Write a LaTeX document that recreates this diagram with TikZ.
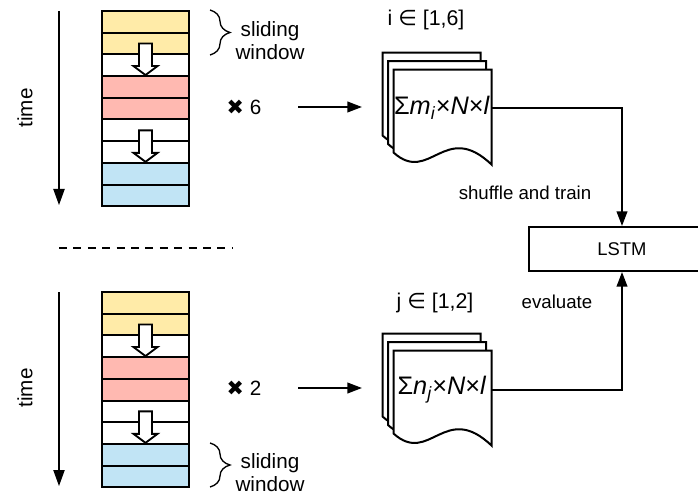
\documentclass[tikz,border=0pt]{standalone}
\usepackage{fontspec}
\setmainfont{Liberation Sans}
\newfontfamily\djv{DejaVu Sans}
\usetikzlibrary{decorations.pathreplacing,arrows.meta,calc}
\definecolor{cyel}{HTML}{FFEBA8}
\definecolor{cred}{HTML}{FFB9B1}
\definecolor{cblu}{HTML}{C1E4F5}
\tikzset{
  cell/.style={draw, line width=1.5pt, minimum width=65.25pt, minimum height=16.275pt, inner sep=0pt},
  harr/.style={draw, fill=white, line width=1.4pt, line join=miter},
  conn/.style={line width=1.4pt, -{Triangle[length=11pt,width=8pt]}},
  timeax/.style={line width=0.8pt, -{Triangle[length=12pt,width=8.5pt]}},
  docline/.style={draw, fill=white, line width=1.5pt, line join=miter},
  lbl/.style={font=\fontsize{15.5}{17.25}\selectfont, inner sep=0pt},
  slbl/.style={font=\fontsize{14}{17}\selectfont, inner sep=0pt},
  doctxt/.style={font=\fontsize{19}{21}\selectfont, inner sep=0pt},
  brc/.style={decorate, decoration={brace, amplitude=15pt}, line width=1pt},
  docsheet/.pic={\path[docline] (0,0) -- (98,0) -- (98,95) .. controls (51,50) and (36,115) .. (0,83) -- cycle;},
  harrow/.pic={\path[harr] (-6.5,0) -- (6.5,0) -- (6.5,22.5) -- (12,22.5) -- (0,31.5) -- (-12,22.5) -- (-6.5,22.5) -- cycle;}
}
\begin{document}
\begin{tikzpicture}[x=0.75pt,y=-0.75pt]
\useasboundingbox (0,0) rectangle (698,495);
% ---------- top stack ----------
\foreach \c [count=\k] in {cyel,cyel,white,cred,cred,white,white,cblu,cblu}
  \node[cell, fill=\c] (a\k) at (145.5, {11+21.7*\k-10.85}) {};
\pic at (a2.center) {harrow};
\pic at (a6.center) {harrow};
% ---------- bottom stack ----------
\foreach \c [count=\k] in {cyel,cyel,white,cred,cred,white,white,cblu,cblu}
  \node[cell, fill=\c] (b\k) at (145.5, {292+21.7*\k-10.85}) {};
\pic at (b2.center) {harrow};
\pic at (b6.center) {harrow};
% ---------- time axes ----------
\coordinate (ta1) at (59,11);  \coordinate (ta2) at (59,205);
\coordinate (tb1) at (59,292); \coordinate (tb2) at (59,486);
\draw[timeax] (ta1) -- (ta2);
\draw[timeax] (tb1) -- (tb2);
\node[lbl, rotate=90] (timeA) at (25,108) {time};
\node[lbl, rotate=90] (timeB) at (25,388) {time};
% ---------- braces ----------
\coordinate (brA1) at (210,10);  \coordinate (brA2) at (210,55);
\coordinate (brB1) at (210,443); \coordinate (brB2) at (210,487);
\draw[brc] (brA1) -- (brA2);
\draw[brc] (brB1) -- (brB2);
\node[lbl, align=center] (swA) at (270,41) {sliding\\window};
\node[lbl, align=center] (swB) at (270,472.5) {sliding\\window};
% ---------- separator ----------
\coordinate (sep1) at (59,248); \coordinate (sep2) at (232,248);
\draw[line width=1pt, dash pattern=on 6pt off 4.8pt] (sep1) -- (sep2);
% ---------- multipliers ----------
\node[lbl] (x6) at (244,107) {{\djv ✖} 6};
\node[lbl] (x2) at (244,388) {{\djv ✖} 2};
\coordinate (s6) at (298,107); \coordinate (e6) at (362,107);
\coordinate (s2) at (298,388); \coordinate (e2) at (362,388);
\draw[conn] (s6) -- (e6);
\draw[conn] (s2) -- (e2);
% ---------- documents ----------
\node[minimum width=73.5pt, minimum height=71.25pt, inner sep=0pt] (docA) at (443,117.5) {};
\node[minimum width=73.5pt, minimum height=71.25pt, inner sep=0pt] (docB) at (443,398.5) {};
\pic at ($(docA.north west)+(-11,-17)$) {docsheet};
\pic at ($(docA.north west)+(-5.5,-8.5)$) {docsheet};
\pic at (docA.north west) {docsheet};
\pic at ($(docB.north west)+(-11,-17)$) {docsheet};
\pic at ($(docB.north west)+(-5.5,-8.5)$) {docsheet};
\pic at (docB.north west) {docsheet};
\node[doctxt] (tA) at (442,108) {Σ\textit{m}\textsubscript{\textit{i}}×\textit{N}×\textit{l}};
\node[doctxt] (tB) at (442,390) {Σ\textit{n}\textsubscript{\textit{j}}×\textit{N}×\textit{l}};
\node[lbl, font=\fontsize{16}{18}\selectfont] (iA) at (426,20) {i {\djv ∈} [1,6]};
\node[lbl, font=\fontsize{16}{18}\selectfont] (jB) at (435,303) {j {\djv ∈} [1,2]};
% ---------- LSTM ----------
\node[draw, line width=1.5pt, minimum width=139.5pt, minimum height=33pt, inner sep=0pt, font=\fontsize{13.8}{16}\selectfont] (lstm) at (622,249) {LSTM};
\draw[conn] (tA -| docA.east) -| (lstm.north);
\draw[conn] (tB -| docB.east) -| (lstm.south);
\node[slbl] (shuf) at (525,193) {shuffle and train};
\node[slbl] (eval) at (557,302) {evaluate};
\end{tikzpicture}
\end{document}
